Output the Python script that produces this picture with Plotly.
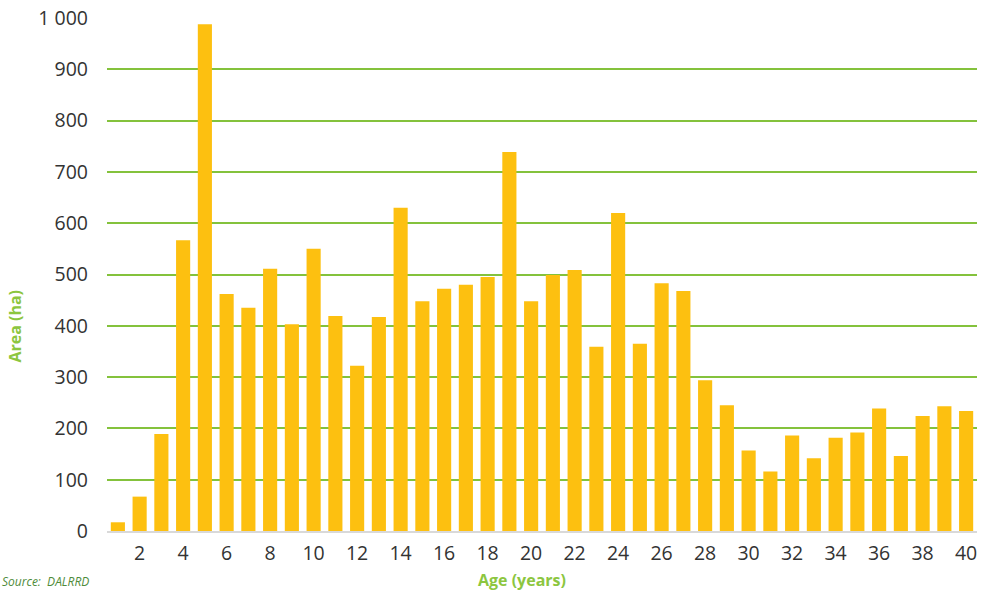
import plotly.graph_objects as go

ages = list(range(1, 41))
area = [17, 67, 189, 567, 988, 462, 435, 511, 403, 550,
        419, 322, 417, 630, 448, 472, 480, 495, 739, 448,
        499, 509, 359, 620, 365, 483, 468, 294, 245, 157,
        116, 186, 142, 182, 192, 239, 146, 224, 243, 234]
x_ticks = list(range(2, 41, 2))
y_ticks = list(range(0, 1001, 100))

GREEN = "#8CC63F"
fig = go.Figure()
fig.add_trace(go.Bar(x=ages, y=area, marker=dict(color="#FDC010", line=dict(width=0)),
                     hoverinfo="x+y"))

fig.update_layout(
    width=990, height=593,
    margin=dict(l=107, r=13, t=18, b=62),
    plot_bgcolor="white", paper_bgcolor="white",
    bargap=0.35, showlegend=False,
    separators=". ",
    font=dict(family="Open Sans", color="#333333", size=19),
    xaxis=dict(range=[0.5, 40.5], tickvals=x_ticks, ticktext=[str(v) for v in x_ticks],
               showgrid=False, showline=True, linecolor="#D9D9D9", linewidth=2,
               ticks="", zeroline=False, tickfont=dict(size=19.5), automargin=False,
               ticklabelstandoff=4),
    yaxis=dict(range=[0, 1000], tickvals=y_ticks, tickformat=",d",
               showgrid=True, gridcolor="#84C23C", gridwidth=1.6, zeroline=False,
               showline=False, ticks="", tickfont=dict(size=19.5), automargin=False,
               ticklabelstandoff=18),
    annotations=[
        dict(text="<b>Age (years)</b>", xref="paper", yref="paper", x=0.477, y=-0.0955,
             xanchor="center", yanchor="middle", showarrow=False,
             font=dict(color=GREEN, size=16)),
        dict(text="<b>Area (ha)</b>", xref="paper", yref="paper", x=-0.106, y=0.40,
             xanchor="center", yanchor="middle", textangle=-90, showarrow=False,
             font=dict(color=GREEN, size=16)),
        dict(text="<i>Source:  DALRRD</i>", xref="paper", yref="paper", x=-0.123, y=-0.1195,
             xanchor="left", yanchor="bottom", showarrow=False,
             font=dict(color="#4E8B3A", size=12)),
    ],
)
fig.write_html("out.html", config={"displayModeBar": False},
               post_script="document.body.style.margin='0';document.body.style.overflow='hidden';")
